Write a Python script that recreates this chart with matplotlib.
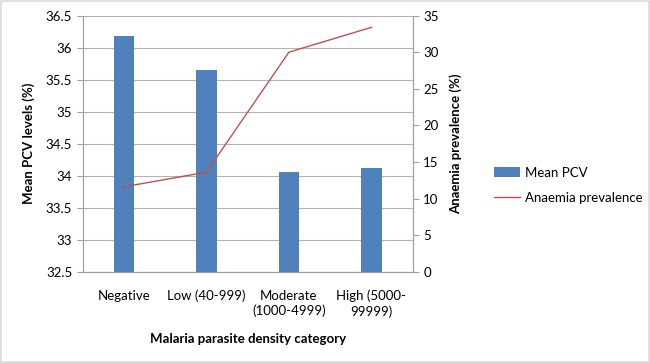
import matplotlib
matplotlib.use("Agg")
import matplotlib.pyplot as plt
import numpy as np

categories = ["Negative", "Low (40-999)", "Moderate\n(1000-4999)", "High (5000-\n99999)"]
mean_pcv = [36.18, 35.65, 34.05, 34.12]
anaemia_prev = [11.6, 13.6, 30.0, 33.4]

plt.rcParams['font.family'] = ['Lato', 'DejaVu Sans']
FS = 9.5

fig = plt.figure(figsize=(6.5, 3.63), dpi=100)
ax = fig.add_axes([0.127, 0.2515, 0.508, 0.7055])
x = np.arange(len(categories))
ax.bar(x, mean_pcv, width=0.25, color="#4F81BD", label="Mean PCV", zorder=3)
ax.set_ylim(32.5, 36.5)
ax.set_yticks(np.arange(32.5, 36.51, 0.5))
ax.set_yticklabels([f"{v:g}" for v in np.arange(32.5, 36.51, 0.5)])
ax.set_xlim(-0.5, 3.5)
ax.set_xticks(x)
ax.set_xticklabels(categories, fontsize=FS, linespacing=1.3)
ax.grid(axis='y', color="#B3B3B3", linewidth=0.8, zorder=0)
ax.tick_params(axis='x', length=0, pad=13)
ax.tick_params(axis='y', labelsize=FS, length=4, color="#A0A0A0")
ax.spines['top'].set_visible(False)
for s in ['left', 'bottom', 'right']:
    ax.spines[s].set_color("#A0A0A0")
ax.set_ylabel("Mean PCV levels (%)", fontsize=FS, fontweight='bold', labelpad=8)
ax.set_xlabel("Malaria parasite density category", fontsize=FS, fontweight='bold', labelpad=11)

ax2 = ax.twinx()
ax2.plot(x, anaemia_prev, color="#C0504D", linewidth=1.0, label="Anaemia prevalence", zorder=4)
ax2.set_ylim(0, 35)
ax2.set_yticks(np.arange(0, 36, 5))
ax2.tick_params(axis='y', labelsize=FS, length=4, color="#A0A0A0")
ax2.spines['top'].set_visible(False)
for s in ['left', 'bottom', 'right']:
    ax2.spines[s].set_color("#A0A0A0")
ax2.set_ylabel("Anaemia prevalence (%)", fontsize=FS, fontweight='bold', labelpad=8)

h1, l1 = ax.get_legend_handles_labels()
h2, l2 = ax2.get_legend_handles_labels()
fig.legend(h1 + h2, l1 + l2, loc='center left', bbox_to_anchor=(0.752, 0.49),
           frameon=False, fontsize=FS, handlelength=2.0, handletextpad=0.35,
           labelspacing=1.0, borderaxespad=0.0)

fig.patches.append(plt.Rectangle((0.001, 0.002), 0.997, 0.995, transform=fig.transFigure,
                                 fill=False, edgecolor="#D9D9D9", linewidth=1.2))
fig.savefig("out.png", dpi=100)
